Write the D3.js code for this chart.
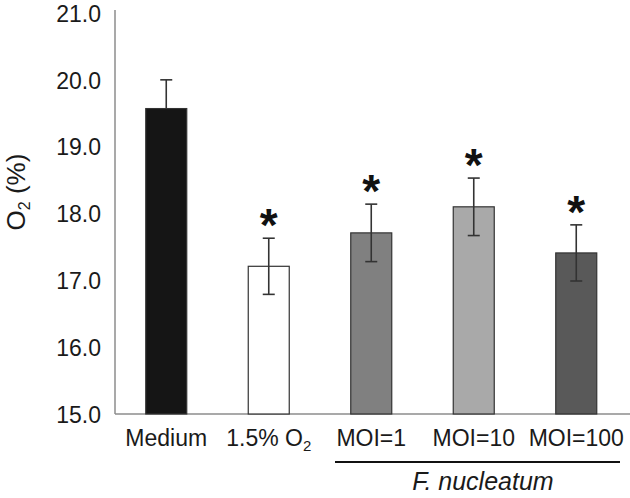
<!DOCTYPE html>
<html><head><meta charset="utf-8">
<script src="https://cdn.jsdelivr.net/npm/d3@7"></script>
<style>body{margin:0;background:#fff}svg{display:block}text{font-family:"Liberation Sans",Arial,sans-serif}</style>
</head><body>
<script>
const categories = ["Medium", "1.5% O2", "MOI=1", "MOI=10", "MOI=100"];
const values = [19.57, 17.21, 17.71, 18.10, 17.41];
const errors = [0.43, 0.42, 0.43, 0.43, 0.42];
const significant = [false, true, true, true, true];
const colors = ["#151515", "#ffffff", "#808080", "#a9a9a9", "#595959"];
const yTicks = [15, 16, 17, 18, 19, 20, 21];

const W = 630, H = 498;
const svg = d3.select("body").append("svg").attr("width", W).attr("height", H);

const x = d3.scaleBand().domain(categories).range([115, 627.5]).paddingInner(0.6).paddingOuter(0.3);
const y = d3.scaleLinear().domain([15, 21]).range([414, 13]);

// y axis
const yAxis = svg.append("g").attr("transform", "translate(115,0)")
  .call(d3.axisLeft(y).tickValues(yTicks).tickFormat(d3.format(".1f")).tickSize(0).tickPadding(14));
yAxis.select(".domain").attr("stroke", "#8c8c8c").attr("stroke-width", 1.5).attr("d", `M0,${y(15)}V10`);
yAxis.selectAll("text").attr("font-size", 23).attr("fill", "#1a1a1a").attr("dy", "0.36em").attr("font-family", '"Liberation Sans",Arial,sans-serif');

// x baseline
svg.append("line").attr("x1", 115).attr("x2", 630).attr("y1", y(15)).attr("y2", y(15))
  .attr("stroke", "#8c8c8c").attr("stroke-width", 1.5);

const data = categories.map((c, i) => ({c, v: values[i], e: errors[i], s: significant[i], col: colors[i]}));

// bars
svg.selectAll("rect.bar").data(data).enter().append("rect")
  .attr("x", d => x(d.c)).attr("width", x.bandwidth())
  .attr("y", d => y(d.v)).attr("height", d => y(15) - y(d.v))
  .attr("fill", d => d.col).attr("stroke", "#333").attr("stroke-width", 1.2);

// error bars
const cx = d => x(d.c) + x.bandwidth() / 2;
const eb = svg.append("g").attr("stroke", "#333").attr("stroke-width", 1.6);
data.forEach((d, i) => {
  const low = i === 0 ? d.v : d.v - d.e;
  eb.append("line").attr("x1", cx(d)).attr("x2", cx(d)).attr("y1", y(d.v + d.e)).attr("y2", y(low));
  eb.append("line").attr("x1", cx(d) - 6).attr("x2", cx(d) + 6).attr("y1", y(d.v + d.e)).attr("y2", y(d.v + d.e));
  if (i !== 0) eb.append("line").attr("x1", cx(d) - 6).attr("x2", cx(d) + 6).attr("y1", y(d.v - d.e)).attr("y2", y(d.v - d.e));
});

// asterisks
svg.selectAll("text.star").data(data.filter(d => d.s)).enter().append("text")
  .attr("x", cx).attr("y", d => y(d.v + d.e) + 3)
  .attr("text-anchor", "middle").attr("font-size", 46).attr("font-weight", "bold").attr("fill", "#111")
  .text("*");

// x labels
const lab = svg.selectAll("text.xl").data(data).enter().append("text")
  .attr("x", cx).attr("y", 446).attr("text-anchor", "middle").attr("font-size", 23).attr("fill", "#1a1a1a");
lab.each(function(d) {
  const t = d3.select(this);
  if (d.c === "1.5% O2") {
    t.append("tspan").text("1.5% O");
    t.append("tspan").attr("font-size", 15).attr("dy", 5).text("2");
  } else t.text(d.c);
});

// bracket line + F. nucleatum
svg.append("line").attr("x1", 335).attr("x2", 620).attr("y1", 462).attr("y2", 462).attr("stroke", "#111").attr("stroke-width", 2.2);
svg.append("text").attr("x", 483).attr("y", 490).attr("text-anchor", "middle")
  .attr("font-size", 25).attr("font-style", "italic").attr("fill", "#1a1a1a").text("F. nucleatum");

// y title
const yt = svg.append("text").attr("transform", "translate(25,192) rotate(-90)")
  .attr("text-anchor", "middle").attr("font-size", 26).attr("fill", "#1a1a1a");
yt.append("tspan").text("O");
yt.append("tspan").attr("font-size", 16).attr("dy", 5).text("2");
yt.append("tspan").attr("dy", -5).text(" (%)");
</script>
</body></html>
